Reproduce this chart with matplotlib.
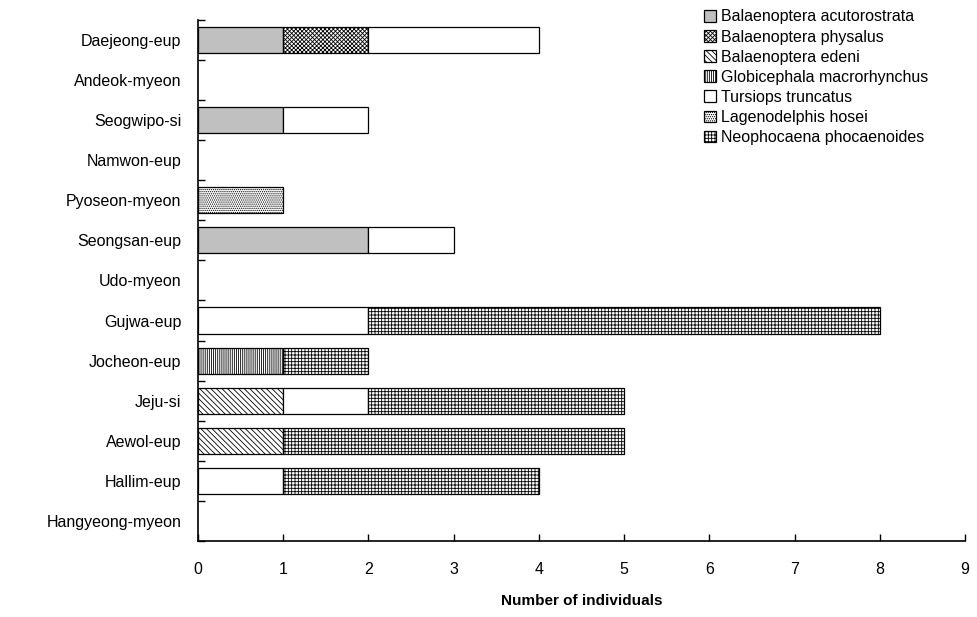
import numpy as np
import matplotlib
matplotlib.use("Agg")
import matplotlib.pyplot as plt

plt.rcParams['font.family'] = ['Liberation Sans', 'DejaVu Sans']
plt.rcParams['hatch.linewidth'] = 0.6

# regions, top to bottom as in the chart
regions = ["Daejeong-eup", "Andeok-myeon", "Seogwipo-si", "Namwon-eup",
           "Pyoseon-myeon", "Seongsan-eup", "Udo-myeon", "Gujwa-eup",
           "Jocheon-eup", "Jeju-si", "Aewol-eup", "Hallim-eup", "Hangyeong-myeon"]

species = ["Balaenoptera acutorostrata", "Balaenoptera physalus", "Balaenoptera edeni",
           "Globicephala macrorhynchus", "Tursiops truncatus", "Lagenodelphis hosei",
           "Neophocaena phocaenoides"]

acutorostrata = [1, 0, 1, 0, 0, 2, 0, 0, 0, 0, 0, 0, 0]
physalus      = [1, 0, 0, 0, 0, 0, 0, 0, 0, 0, 0, 0, 0]
edeni         = [0, 0, 0, 0, 0, 0, 0, 0, 0, 1, 1, 0, 0]
globicephala  = [0, 0, 0, 0, 0, 0, 0, 0, 1, 0, 0, 0, 0]
tursiops      = [2, 0, 1, 0, 0, 1, 0, 2, 0, 1, 0, 1, 0]
lagenodelphis = [0, 0, 0, 0, 1, 0, 0, 0, 0, 0, 0, 0, 0]
neophocaena   = [0, 0, 0, 0, 0, 0, 0, 6, 1, 3, 4, 3, 0]

series = [acutorostrata, physalus, edeni, globicephala, tursiops, lagenodelphis, neophocaena]
faces = ["#c0c0c0", "white", "white", "white", "white", "white", "white"]
hatches = [None, "xxxxxxxx", "\\\\\\\\\\\\", "||||||||", None, "........", "+++++"]

fig = plt.figure(figsize=(9.78, 6.17), dpi=100)
ax = fig.add_axes([0.2025, 0.123, 0.7842, 0.845])

y = np.arange(len(regions))[::-1]
left = np.zeros(len(regions))
handles = []
for name, vals, fc, h in zip(species, series, faces, hatches):
    vals = np.array(vals, dtype=float)
    nz = vals > 0
    b = ax.barh(y[nz], vals[nz], left=left[nz], height=0.65, color=fc,
                edgecolor="black", linewidth=0.9, hatch=h, label=name)
    left += vals
    handles.append(b)

ax.set_xlim(0, 9)
ax.set_ylim(-0.5, len(regions) - 0.5)
ax.set_xticks(range(10))
ax.set_yticks(y)
ax.set_yticklabels(regions)
ax.set_yticks(np.arange(len(regions) + 1) - 0.5, minor=True)
ax.tick_params(axis='y', which='major', length=0, pad=12, labelsize=11.5)
ax.tick_params(axis='y', which='minor', direction='in', length=5, width=1)
ax.tick_params(axis='x', direction='in', length=5, width=1, pad=15, labelsize=11.5)

for s in ["top", "right"]:
    ax.spines[s].set_visible(False)
for s in ["left", "bottom"]:
    ax.spines[s].set_linewidth(1.2)

ax.set_xlabel("Number of individuals", fontsize=11, fontweight='bold', labelpad=12)

fig.legend(handles=handles, labels=species, loc="upper left",
           bbox_to_anchor=(0.705, 1.008), frameon=False, fontsize=11.5,
           handlelength=0.75, handleheight=0.75, handletextpad=0.3,
           labelspacing=0.32)

fig.savefig("out.png", dpi=100)
